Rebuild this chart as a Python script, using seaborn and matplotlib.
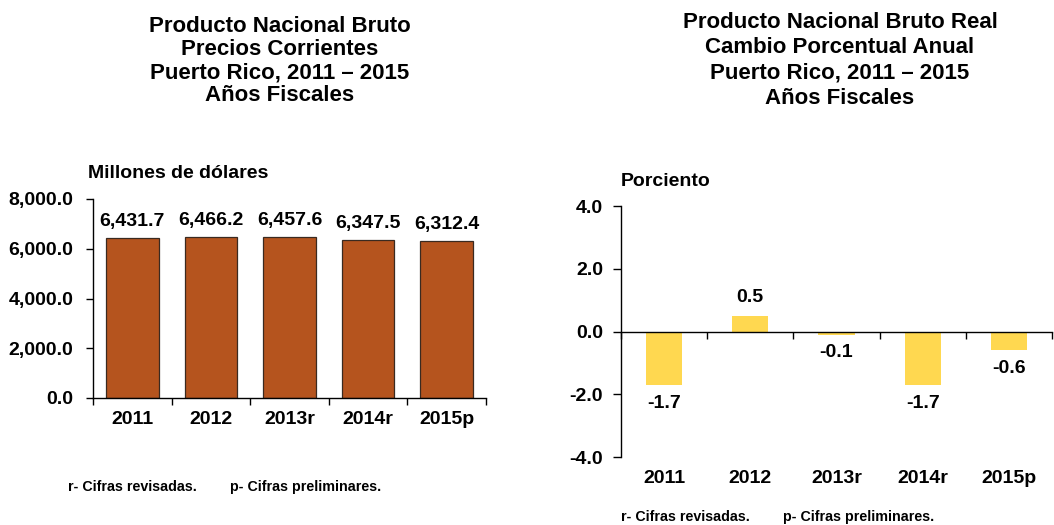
import numpy as np
import pandas as pd
import matplotlib
matplotlib.use("Agg")
import matplotlib.pyplot as plt
import seaborn as sns

# Data
years = ["2011", "2012", "2013r", "2014r", "2015p"]
pnb_corriente = [6431.7, 6466.2, 6457.6, 6347.5, 6312.4]
pnb_real_cambio = [-1.7, 0.5, -0.1, -1.7, -0.6]

title_left = "Producto Nacional Bruto\nPrecios Corrientes\nPuerto Rico, 2011 \u2013 2015\nAños Fiscales"
title_right = "Producto Nacional Bruto Real\nCambio Porcentual Anual\nPuerto Rico, 2011 \u2013 2015\nAños Fiscales"
nota_r = "r- Cifras revisadas."
nota_p = "p- Cifras preliminares."

sns.set_style("white")
plt.rcParams["font.family"] = ["Liberation Sans", "DejaVu Sans"]
plt.rcParams["font.weight"] = "bold"
plt.rcParams["text.color"] = "black"
plt.rcParams["xtick.color"] = "black"
plt.rcParams["ytick.color"] = "black"
plt.rcParams["axes.labelcolor"] = "black"

W, H = 1054, 525
fig = plt.figure(figsize=(W / 100, H / 100), dpi=100)

def px(x0, y0, x1, y1):
    # convert pixel box to figure fraction
    return [x0 / W, 1 - y1 / H, (x1 - x0) / W, (y1 - y0) / H]

df_left = pd.DataFrame({"year": years, "value": pnb_corriente})
df_right = pd.DataFrame({"year": years, "value": pnb_real_cambio})

TICK_FS = 14
VAL_FS = 14

# ---- Left chart: PNB precios corrientes
ax1 = fig.add_axes(px(93, 199, 486, 398))
sns.barplot(data=df_left, x="year", y="value", color="#B5541E", saturation=1,
            width=0.67, edgecolor="#3a2a20", linewidth=0.9, ax=ax1)
ax1.set_ylim(0, 8000)
ax1.set_xlim(-0.5, 4.5)
ax1.set_yticks([0, 2000, 4000, 6000, 8000])
ax1.set_yticklabels([f"{v:,.1f}" for v in [0, 2000, 4000, 6000, 8000]])
ax1.set_xticks(np.arange(-0.5, 5, 1), minor=True)
ax1.tick_params(axis="x", which="major", length=0, pad=9, labelsize=TICK_FS)
ax1.tick_params(axis="x", which="minor", length=5, width=1, color="black", direction="out", bottom=True)
ax1.tick_params(axis="y", length=5, width=1, color="black", direction="out", left=True, pad=9, labelsize=TICK_FS)
for s in ["top", "right"]:
    ax1.spines[s].set_visible(False)
for s in ["left", "bottom"]:
    ax1.spines[s].set_color("black")
    ax1.spines[s].set_linewidth(1)
ax1.set_xlabel("")
ax1.set_ylabel("")
ax1.bar_label(ax1.containers[0], labels=[f"{v:,.1f}" for v in pnb_corriente],
              padding=6, fontsize=VAL_FS, fontweight="bold")

# ---- Right chart: PNB real cambio porcentual
ax2 = fig.add_axes(px(621, 206, 1052, 457))
sns.barplot(data=df_right, x="year", y="value", color="#FFD850", saturation=1,
            width=0.42, linewidth=0, ax=ax2)
ax2.set_ylim(-4, 4)
ax2.set_xlim(-0.5, 4.5)
ax2.set_yticks([-4, -2, 0, 2, 4])
ax2.set_yticklabels([f"{v:.1f}" for v in [-4, -2, 0, 2, 4]])
ax2.spines["bottom"].set_position(("data", 0))
ax2.set_xticks(np.arange(-0.5, 5, 1), minor=True)
ax2.tick_params(axis="x", which="major", length=0, labelbottom=False)
ax2.tick_params(axis="x", which="minor", length=5, width=1, color="black", direction="out", bottom=True)
ax2.tick_params(axis="y", length=6, width=1, color="black", direction="out", left=True, pad=7, labelsize=TICK_FS)
for s in ["top", "right"]:
    ax2.spines[s].set_visible(False)
for s in ["left", "bottom"]:
    ax2.spines[s].set_color("black")
    ax2.spines[s].set_linewidth(1)
ax2.set_xlabel("")
ax2.set_ylabel("")
for i, lab in enumerate(years):
    ax2.text(i, -0.085, lab, transform=ax2.get_xaxis_transform(),
             ha="center", va="center", fontsize=TICK_FS, fontweight="bold")
ax2.bar_label(ax2.containers[0], labels=[f"{v:.1f}" for v in pnb_real_cambio],
              padding=7, fontsize=VAL_FS, fontweight="bold")

# ---- Titles and notes
fig.text(280 / W, 1 - 61 / H, title_left, ha="center", va="center",
         fontsize=16, fontweight="bold", linespacing=1.13)
fig.text(840 / W, 1 - 60.5 / H, title_right, ha="center", va="center",
         fontsize=16, fontweight="bold", linespacing=1.28)
fig.text(88 / W, 1 - 173 / H, "Millones de dólares", ha="left", va="center",
         fontsize=14, fontweight="bold")
fig.text(621 / W, 1 - 182 / H, "Porciento", ha="left", va="center",
         fontsize=14, fontweight="bold")
fig.text(68 / W, 1 - 487 / H, nota_r, ha="left", va="center", fontsize=10.3, fontweight="bold")
fig.text(230 / W, 1 - 487 / H, nota_p, ha="left", va="center", fontsize=10.3, fontweight="bold")
fig.text(621 / W, 1 - 517 / H, nota_r, ha="left", va="center", fontsize=10.3, fontweight="bold")
fig.text(783 / W, 1 - 517 / H, nota_p, ha="left", va="center", fontsize=10.3, fontweight="bold")

fig.savefig("out.png", dpi=100)
